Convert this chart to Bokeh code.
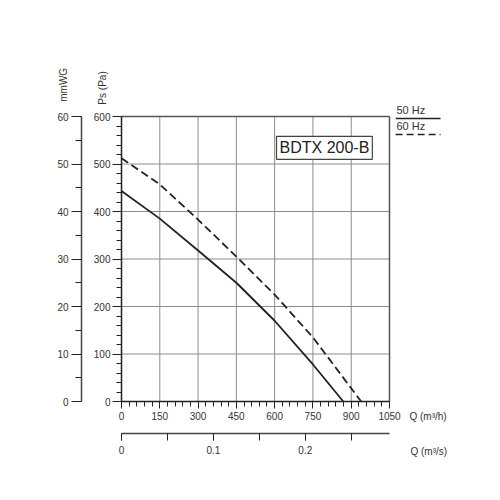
from math import pi

from bokeh.embed import file_html
from bokeh.models import Label, LinearAxis, Range1d, SingleIntervalTicker
from bokeh.plotting import figure
from bokeh.resources import INLINE

# fan curve: Q in m3/h, Ps in Pa
q_50 = [0, 150, 300, 450, 600, 750, 869]
ps_50 = [443, 385, 318, 250, 170, 78, 0]
q_60 = [0, 150, 300, 450, 600, 750, 939]
ps_60 = [512, 457, 383, 305, 225, 135, 0]

x_ticks = [150, 300, 450, 600, 750, 900, 1050]
y_ticks = [100, 200, 300, 400, 500, 600]

Q_MAX = 1050
PS_MAX = 600
FONT = "Liberation Sans"
INK = "#333333"

# canvas and where the chart box sits on it (px)
W, H = 484, 484
BOX_L, BOX_R, BOX_T, BOX_B = 121, 389, 116, 401
sx = (BOX_R - BOX_L) / Q_MAX
sy = (BOX_B - BOX_T) / PS_MAX

p = figure(width=W, height=H, output_backend="svg", toolbar_location=None,
           x_axis_type=None, y_axis_type=None,
           x_range=Range1d(-BOX_L / sx, (W - BOX_L) / sx),
           y_range=Range1d(-(H - BOX_B) / sy, BOX_B / sy),
           min_border=0, min_border_left=0, min_border_right=0,
           min_border_top=0, min_border_bottom=0)
p.outline_line_color = None
p.background_fill_color = "white"
p.border_fill_color = "white"

# grid, with top and right edge of the box a bit darker
p.segment(x0=x_ticks[:-1], y0=0, x1=x_ticks[:-1], y1=PS_MAX,
          line_color="#8c8c8c", line_width=1)
p.segment(x0=0, y0=y_ticks[:-1], x1=Q_MAX, y1=y_ticks[:-1],
          line_color="#8c8c8c", line_width=1)
p.segment(x0=[0, Q_MAX], y0=[PS_MAX, 0], x1=[Q_MAX, Q_MAX], y1=[PS_MAX, PS_MAX],
          line_color="#555555", line_width=1.5)


def style_axis(ax, tick_out, minor_out, standoff):
    ax.axis_line_color = "#222222"
    ax.axis_line_width = 1.5
    ax.major_tick_line_color = "#222222"
    ax.minor_tick_line_color = "#222222"
    ax.major_tick_in = 0
    ax.minor_tick_in = 0
    ax.major_tick_out = tick_out
    ax.minor_tick_out = minor_out
    ax.major_label_standoff = standoff
    ax.major_label_text_font = FONT
    ax.major_label_text_font_size = "10px"
    ax.major_label_text_color = INK


# Ps (Pa) axis
pa_axis = LinearAxis(ticker=SingleIntervalTicker(interval=100, num_minor_ticks=5),
                     fixed_location=0, bounds=(0, PS_MAX))
style_axis(pa_axis, 9, 5, 2)
p.add_layout(pa_axis, "left")

# mmWG axis, 40 px left of the box
p.extra_y_ranges = {"mm": Range1d(p.y_range.start / 10, p.y_range.end / 10)}
mm_axis = LinearAxis(y_range_name="mm",
                     ticker=SingleIntervalTicker(interval=10, num_minor_ticks=2),
                     fixed_location=-40 / sx, bounds=(0, PS_MAX / 10))
style_axis(mm_axis, 10, 6, 3)
mm_axis.axis_line_color = "#444444"
p.add_layout(mm_axis, "left")

# Q (m3/h) axis
qh_axis = LinearAxis(ticker=SingleIntervalTicker(interval=150, num_minor_ticks=5),
                     fixed_location=0, bounds=(0, Q_MAX))
style_axis(qh_axis, 7, 5, 3)
p.add_layout(qh_axis, "below")

# Q (m3/s) axis, 32 px below the box
p.extra_x_ranges = {"qs": Range1d(p.x_range.start / 3600, p.x_range.end / 3600)}
qs_axis = LinearAxis(x_range_name="qs",
                     ticker=SingleIntervalTicker(interval=0.1, num_minor_ticks=2),
                     fixed_location=-32 / sy, bounds=(0, Q_MAX / 3600))
style_axis(qs_axis, 7, 7, 5)
qs_axis.axis_line_color = "#444444"
p.add_layout(qs_axis, "below")

p.line(q_50, ps_50, line_color="#222222", line_width=1.8)
p.line(q_60, ps_60, line_color="#222222", line_width=1.8, line_dash="8 4")

p.add_layout(Label(x=795, y=534, text="BDTX 200-B", text_font=FONT,
                   text_font_size="16px", text_color="#222222",
                   text_align="center", text_baseline="middle",
                   border_line_color="#444444", border_line_width=1.2,
                   background_fill_color="white", padding=3))


def side_text(x, y, text, size="10px", angle=0):
    p.add_layout(Label(x=x, y=y, text=text, angle=angle, text_font=FONT,
                       text_font_size=size, text_color=INK,
                       text_align="left", text_baseline="middle"))


side_text(-76, 625, "Ps (Pa)", angle=pi / 2)
side_text(-227, 631, "mmWG", angle=pi / 2)
side_text(1128, -31.5, "Q (m³/h)")
side_text(1132, -106, "Q (m³/s)")

# legend: label above a line sample
side_text(1077, 614, "50 Hz", size="11px")
side_text(1077, 579, "60 Hz", size="11px")
p.segment(x0=[1074], y0=[596], x1=[1250], y1=[596],
          line_color="#222222", line_width=1.5)
p.segment(x0=[1074], y0=[562], x1=[1250], y1=[562],
          line_color="#222222", line_width=1.5, line_dash="7 4")

open("out.html", "w").write(file_html(p, INLINE))
